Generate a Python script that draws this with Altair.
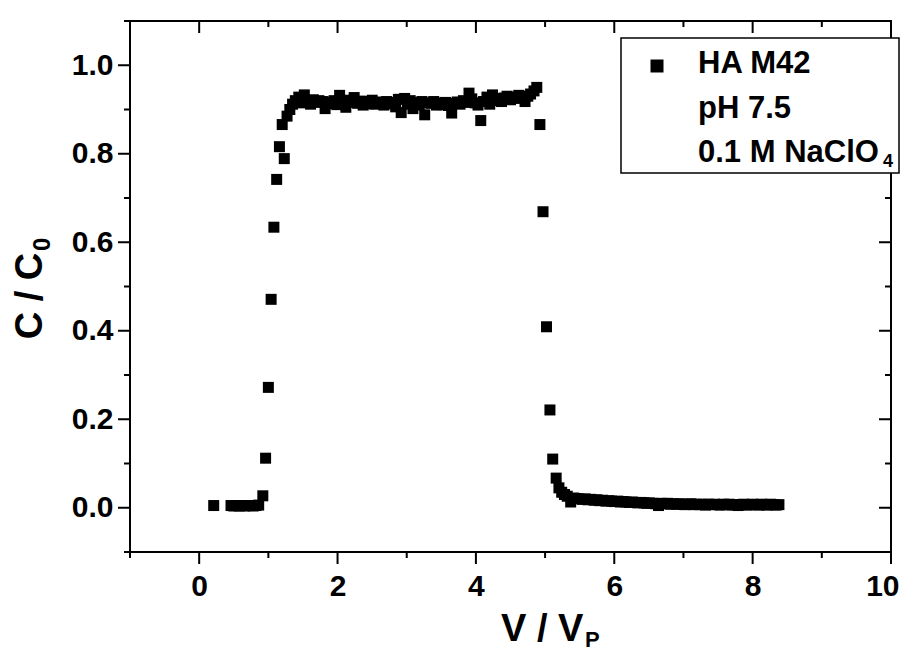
import altair as alt
import pandas as pd

FONT = "Liberation Sans"
TICK_FONT = "Liberation Sans Narrow, Liberation Sans"

# ---- data (V/Vp, C/C0) ----
baseline_pts = [(0.21, 0.005), (0.46, 0.005), (0.50, 0.004), (0.54, 0.005), (0.58, 0.004),
                (0.62, 0.005), (0.66, 0.004), (0.70, 0.005), (0.74, 0.005), (0.78, 0.004),
                (0.82, 0.005), (0.86, 0.006)]
rise_pts = [(0.92, 0.027), (0.96, 0.112), (1.00, 0.272), (1.04, 0.471), (1.08, 0.634),
            (1.12, 0.742), (1.16, 0.816), (1.20, 0.866), (1.23, 0.789), (1.27, 0.885),
            (1.31, 0.900), (1.35, 0.912), (1.39, 0.920), (1.44, 0.928)]
plateau_pts = [(1.48, 0.915), (1.52, 0.933), (1.56, 0.918), (1.61, 0.912), (1.65, 0.922),
               (1.69, 0.916), (1.73, 0.920), (1.78, 0.918), (1.82, 0.902), (1.86, 0.917),
               (1.90, 0.913), (1.95, 0.920), (1.99, 0.911), (2.03, 0.932), (2.07, 0.917),
               (2.12, 0.905), (2.16, 0.921), (2.20, 0.916), (2.24, 0.927), (2.29, 0.914),
               (2.33, 0.919), (2.37, 0.910), (2.41, 0.918), (2.46, 0.913), (2.50, 0.921),
               (2.54, 0.912), (2.58, 0.917), (2.63, 0.915), (2.67, 0.910), (2.71, 0.918),
               (2.75, 0.913), (2.80, 0.916), (2.84, 0.906), (2.88, 0.923), (2.92, 0.893),
               (2.97, 0.925), (3.01, 0.912), (3.05, 0.920), (3.09, 0.902), (3.14, 0.916),
               (3.18, 0.910), (3.22, 0.918), (3.26, 0.888), (3.31, 0.915), (3.35, 0.914),
               (3.39, 0.918), (3.43, 0.910), (3.48, 0.915), (3.52, 0.911), (3.56, 0.916),
               (3.60, 0.909), (3.65, 0.892), (3.69, 0.914), (3.73, 0.917), (3.77, 0.912),
               (3.82, 0.920), (3.86, 0.916), (3.90, 0.937), (3.94, 0.924), (3.99, 0.915),
               (4.03, 0.910), (4.07, 0.875), (4.11, 0.918), (4.16, 0.928), (4.20, 0.912),
               (4.24, 0.933), (4.28, 0.920), (4.33, 0.925), (4.37, 0.918), (4.41, 0.926),
               (4.45, 0.930), (4.50, 0.922), (4.54, 0.928), (4.58, 0.925), (4.62, 0.932),
               (4.67, 0.928), (4.71, 0.918), (4.75, 0.930), (4.79, 0.935), (4.84, 0.942),
               (4.88, 0.950)]
fall_pts = [(4.925, 0.866), (4.97, 0.669), (5.02, 0.409), (5.07, 0.221), (5.11, 0.110),
            (5.16, 0.067), (5.20, 0.045), (5.24, 0.035), (5.28, 0.030), (5.32, 0.026),
            (5.37, 0.013), (5.41, 0.022)]
tail_pts = [(5.45, 0.021), (5.49, 0.020), (5.54, 0.019), (5.58, 0.020), (5.62, 0.018),
            (5.66, 0.019), (5.71, 0.017), (5.75, 0.018), (5.79, 0.016), (5.83, 0.017),
            (5.88, 0.015), (5.92, 0.016), (5.96, 0.015), (6.00, 0.014), (6.05, 0.015),
            (6.09, 0.013), (6.13, 0.014), (6.17, 0.013), (6.22, 0.012), (6.26, 0.013),
            (6.30, 0.012), (6.34, 0.011), (6.39, 0.012), (6.43, 0.011), (6.47, 0.010),
            (6.51, 0.011), (6.56, 0.010), (6.60, 0.009), (6.64, 0.005), (6.68, 0.010),
            (6.73, 0.009), (6.77, 0.010), (6.81, 0.008), (6.85, 0.009), (6.90, 0.008),
            (6.94, 0.009), (6.98, 0.008), (7.02, 0.007), (7.07, 0.008), (7.11, 0.009),
            (7.15, 0.007), (7.19, 0.008), (7.24, 0.007), (7.28, 0.008), (7.32, 0.006),
            (7.36, 0.008), (7.41, 0.007), (7.45, 0.008), (7.49, 0.007), (7.53, 0.006),
            (7.58, 0.008), (7.62, 0.007), (7.66, 0.008), (7.70, 0.006), (7.75, 0.007),
            (7.79, 0.005), (7.83, 0.007), (7.87, 0.008), (7.92, 0.006), (7.96, 0.007),
            (8.00, 0.008), (8.04, 0.007), (8.09, 0.006), (8.13, 0.008), (8.17, 0.007),
            (8.21, 0.006), (8.26, 0.008), (8.30, 0.007), (8.34, 0.006), (8.38, 0.007)]

x_major_ticks = [0, 2, 4, 6, 8, 10]
x_minor_ticks = [-1, 1, 3, 5, 7, 9]
y_major_ticks = [0.0, 0.2, 0.4, 0.6, 0.8, 1.0]
y_minor_ticks = [-0.1, 0.1, 0.3, 0.5, 0.7, 0.9, 1.1]
legend_lines = ["HA M42", "pH 7.5", "0.1 M NaClO"]
legend_sub = "4"
x_title, x_title_sub = "V / V", "P"
y_title, y_title_sub = "C / C", "0"

df = pd.DataFrame(baseline_pts + rise_pts + plateau_pts + fall_pts + tail_pts,
                  columns=["v", "c"])
one = pd.DataFrame({"k": [0]})

W, H = 761, 531
MAJ, MIN = 12, 6
xs = alt.Scale(domain=[-1, 10], nice=False, zero=False)
ys = alt.Scale(domain=[-0.1, 1.1], nice=False, zero=False)

label_style = dict(grid=False, title=None, domain=False, ticks=False, labelFont=TICK_FONT,
                   labelFontSize=30, labelFontWeight="bold", labelColor="black",
                   labelOverlap=False)

ax_bottom = alt.Axis(orient="bottom", values=x_major_ticks, format="d",
                     labelPadding=19, labelFlush=True, labelFlushOffset=8, **label_style)
ax_left = alt.Axis(orient="left", values=y_major_ticks, format=".1f",
                   labelPadding=17, labelFlush=False, **label_style)

points = alt.Chart(df).mark_square(size=121, color="black", opacity=1).encode(
    x=alt.X("v:Q", scale=xs, axis=ax_bottom),
    y=alt.Y("c:Q", scale=ys, axis=ax_left),
)


def xticks(vals, y0, y1):
    return alt.Chart(pd.DataFrame({"t": vals})).mark_rule(color="black", strokeWidth=2).encode(
        x=alt.X("t:Q", scale=xs, axis=ax_bottom), y=alt.value(y0), y2=alt.value(y1))


def yticks(vals, x0, x1):
    return alt.Chart(pd.DataFrame({"t": vals})).mark_rule(color="black", strokeWidth=2).encode(
        y=alt.Y("t:Q", scale=ys, axis=ax_left), x=alt.value(x0), x2=alt.value(x1))


ticks = [
    xticks(x_major_ticks, H, H + MAJ), xticks(x_minor_ticks, H, H + MIN),   # bottom, outward
    xticks(x_major_ticks, 0, MAJ), xticks(x_minor_ticks, 0, MIN),           # top, inward
    yticks(y_major_ticks, -MAJ, 0), yticks(y_minor_ticks, -MIN, 0),         # left, outward
    yticks(y_major_ticks, W - MAJ, W), yticks(y_minor_ticks, W - MIN, W),   # right, inward
]

legend_box = alt.Chart(one).mark_rect(fill="white", stroke="black", strokeWidth=1.5).encode(
    x=alt.value(491), x2=alt.value(769), y=alt.value(17), y2=alt.value(152))
legend_symbol = alt.Chart(one).mark_square(size=169, color="black", opacity=1).encode(
    x=alt.value(527), y=alt.value(45))


def txt(s, x, y, size, angle=0, align="left"):
    return alt.Chart(one).mark_text(
        text=s, font=FONT, fontSize=size, fontWeight="bold", color="black",
        align=align, baseline="alphabetic", angle=angle,
    ).encode(x=alt.value(x), y=alt.value(y))


legend_texts = [
    txt(legend_lines[0], 568, 52, 31),
    txt(legend_lines[1], 568, 97, 31),
    txt(legend_lines[2], 568, 141, 31),
    txt(legend_sub, 753, 146, 18),
]

titles = [
    txt(x_title, 371, 620, 38),
    txt(x_title_sub, 455, 626, 22),
    txt(y_title, -88, 275, 38, angle=270, align="center"),
    txt(y_title_sub, -80, 230, 24, angle=270),
]

chart = alt.layer(points, *ticks, legend_box, legend_symbol, *legend_texts, *titles).properties(
    width=W, height=H,
    padding={"left": 122, "top": 13, "right": 9, "bottom": 99},
    autosize=alt.AutoSizeParams(type="none"),
    background="white",
).configure_view(stroke="black", strokeWidth=2)

chart.save("out.html", embed_options={"renderer": "svg", "actions": False})
